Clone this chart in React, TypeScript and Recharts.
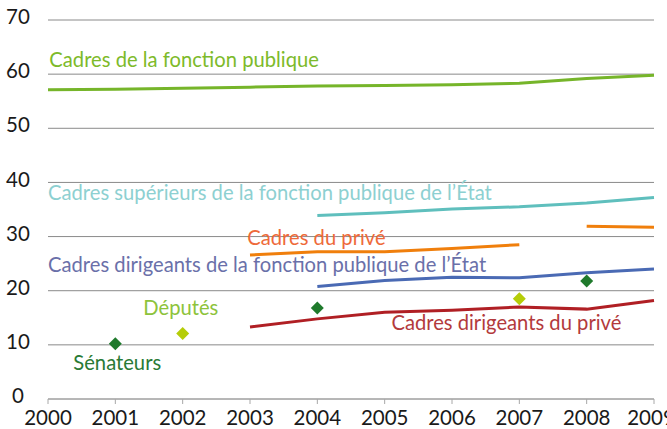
import React from 'react';
import {
  LineChart,
  Line,
  XAxis,
  YAxis,
  CartesianGrid,
  ReferenceDot,
} from 'recharts';

const YEARS = [2000, 2001, 2002, 2003, 2004, 2005, 2006, 2007, 2008, 2009];
const FONCTION_PUBLIQUE = [57.1, 57.2, 57.4, 57.6, 57.8, 57.9, 58.05, 58.3, 59.2, 59.8];
const SUP_ETAT = [null, null, null, null, 33.9, 34.4, 35.1, 35.5, 36.2, 37.2];
const PRIVE_A = [null, null, null, 26.6, 27.2, 27.2, 27.8, 28.5, null, null];
const PRIVE_B = [null, null, null, null, null, null, null, null, 31.9, 31.7];
const DIR_ETAT = [null, null, null, null, 20.8, 21.9, 22.5, 22.4, 23.3, 24.0];
const DIR_PRIVE = [null, null, null, 13.3, 14.8, 16.0, 16.4, 17.0, 16.6, 18.2];
const SENATEURS = [null, 10.2, null, null, 16.8, null, null, null, 21.8, null];
const DEPUTES = [null, null, 12.1, null, null, null, null, 18.5, null, null];
const Y_TICKS = [0, 10, 20, 30, 40, 50, 60, 70];

// annotation anchors, in data units (year, value)
const LABELS = [
  { text: 'Cadres de la fonction publique', x: 2000.02, y: 62.2, color: '#7dba2a' },
  { text: 'Cadres supérieurs de la fonction publique de l’État', x: 2000, y: 37.75, color: '#8dd0d1' },
  { text: 'Cadres du privé', x: 2002.96, y: 29.46, color: '#ee6a3a' },
  { text: 'Cadres dirigeants de la fonction publique de l’État', x: 2000, y: 24.4, color: '#6a70a9' },
  { text: 'Députés', x: 2001.415, y: 16.4, color: '#8dc33b' },
  { text: 'Sénateurs', x: 2000.376, y: 6.23, color: '#2a7a35' },
  { text: 'Cadres dirigeants du privé', x: 2005.1, y: 13.62, color: '#b33a3c' },
];

const FONT = 'Lato, "Open Sans", sans-serif';

const data = YEARS.map((year, i) => ({
  year,
  fp: FONCTION_PUBLIQUE[i],
  sup: SUP_ETAT[i],
  priveA: PRIVE_A[i],
  priveB: PRIVE_B[i],
  dirEtat: DIR_ETAT[i],
  dirPrive: DIR_PRIVE[i],
  senateurs: SENATEURS[i],
  deputes: DEPUTES[i],
}));

const Diamond = (color: string) => (props: any) => {
  const { cx, cy, value } = props;
  if (value == null || cx == null || cy == null) return <g key={props.key} />;
  const s = 6.5;
  return (
    <path
      key={props.key}
      d={`M${cx},${cy - s} L${cx + s},${cy} L${cx},${cy + s} L${cx - s},${cy} Z`}
      fill={color}
    />
  );
};

const XTick = (props: any) => {
  const { x, y, payload } = props;
  return (
    <text x={x} y={y + 14} textAnchor="middle" dominantBaseline="middle" fill="#1a1a1a" fontSize={20.5} fontFamily={FONT}>
      {payload.value}
    </text>
  );
};

const YTick = (props: any) => {
  const { y, payload } = props;
  return (
    <text x={18} y={y - 1} textAnchor="middle" dominantBaseline="middle" fill="#1a1a1a" fontSize={20.5} fontFamily={FONT}>
      {payload.value}
    </text>
  );
};

export default function App() {
  return (
    <div style={{ position: 'absolute', left: 0, top: 0, width: 667, height: 429, background: '#fff' }}>
      <LineChart width={667} height={429} data={data} margin={{ top: 20, right: 13, bottom: 0, left: 0 }}>
        <CartesianGrid vertical={false} stroke="#8a8a8a" strokeWidth={1} />
        <XAxis
          dataKey="year"
          type="number"
          domain={[2000, 2009]}
          ticks={YEARS}
          height={30}
          stroke="#a8a8a8"
          tickSize={5}
          tick={<XTick />}
        />
        <YAxis
          domain={[0, 70]}
          ticks={Y_TICKS}
          width={48}
          axisLine={false}
          tickLine={false}
          tick={<YTick />}
        />
        <Line dataKey="fp" stroke="#76b52a" strokeWidth={3} dot={false} isAnimationActive={false} />
        <Line dataKey="sup" stroke="#5fbfbd" strokeWidth={3} dot={false} isAnimationActive={false} />
        <Line dataKey="priveA" stroke="#f07f0c" strokeWidth={3} dot={false} isAnimationActive={false} />
        <Line dataKey="priveB" stroke="#f07f0c" strokeWidth={3} dot={false} isAnimationActive={false} />
        <Line dataKey="dirEtat" stroke="#4a6ab4" strokeWidth={3} dot={false} isAnimationActive={false} />
        <Line dataKey="dirPrive" stroke="#b01f24" strokeWidth={3} dot={false} isAnimationActive={false} />
        <Line dataKey="senateurs" stroke="none" dot={Diamond('#1f7a2c')} activeDot={false} isAnimationActive={false} />
        <Line dataKey="deputes" stroke="none" dot={Diamond('#b5cd08')} activeDot={false} isAnimationActive={false} />
        {LABELS.map((l) => (
          <ReferenceDot
            key={l.text}
            x={l.x}
            y={l.y}
            r={0}
            shape={(p: any) => (
              <text x={p.cx} y={p.cy} fill={l.color} fontSize={20.2} fontFamily={FONT} dominantBaseline="middle">
                {l.text}
              </text>
            )}
          />
        ))}
      </LineChart>
    </div>
  );
}
